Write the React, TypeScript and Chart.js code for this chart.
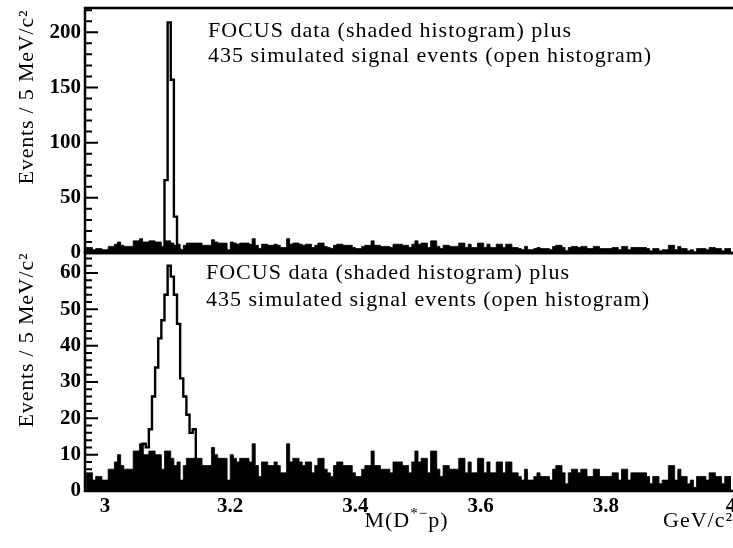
import React, { useEffect, useRef } from 'react';
import { Chart, registerables } from 'chart.js';

Chart.register(...registerables);

const FONT_FAMILY = '"Liberation Serif", "Times New Roman", Times, serif';

// x range (GeV/c^2) and binning (5 MeV bins)
const xRange = [2.968, 4.0];
const binStart = 2.97;
const binWidth = 0.005;

const xTickValues = [3, 3.2, 3.4, 3.6, 3.8, 4];
const topYTickValues = [0, 50, 100, 150, 200];
const bottomYTickValues = [0, 10, 20, 30, 40, 50, 60];
const topYMax = 222;
const bottomYMax = 65.5;

// FOCUS data, events per 5 MeV bin starting at 2.970 GeV/c^2
const dataCounts = [
  5, 5, 3, 4, 4, 3, 3, 6, 6, 8,
  10, 7, 6, 6, 6, 11, 11, 13, 10, 10,
  11, 11, 10, 10, 6, 11, 11, 9, 7, 8,
  3, 7, 9, 9, 9, 9, 9, 7, 7, 7,
  12, 10, 9, 9, 9, 3, 10, 9, 8, 9,
  9, 9, 8, 13, 7, 4, 8, 8, 7, 7,
  8, 7, 5, 5, 13, 8, 9, 9, 8, 7,
  8, 8, 5, 7, 9, 9, 6, 5, 4, 7,
  8, 8, 7, 7, 7, 5, 4, 4, 6, 7,
  7, 11, 7, 7, 6, 6, 6, 5, 8, 8,
  8, 7, 7, 5, 8, 11, 8, 9, 9, 5,
  11, 11, 6, 4, 7, 7, 6, 6, 6, 9,
  9, 5, 8, 5, 5, 9, 9, 5, 8, 5,
  5, 8, 8, 5, 8, 8, 5, 5, 4, 3,
  6, 3, 3, 4, 5, 4, 4, 4, 3, 6,
  7, 7, 5, 2, 5, 6, 6, 5, 6, 6,
  4, 4, 6, 6, 4, 4, 4, 4, 5, 5,
  3, 6, 6, 3, 5, 5, 5, 5, 5, 4,
  2, 4, 4, 2, 3, 3, 7, 7, 3, 6,
  4, 4, 2, 3, 1, 4, 4, 4, 3, 5,
  5, 4, 4, 2, 4, 4,
];

// simulated signal (open histograms)
const topSignalFirstBin = 24;
const topSignalCounts = [2, 66, 209, 157, 33, 3];
const bottomSignalFirstBin = 16;
const bottomSignalCounts = [2, 5, 13, 12, 17, 26, 34, 42, 47, 54, 62, 59, 54, 46, 31, 26, 21, 16, 17, 5, 2];

const annotationLines = [
  'FOCUS data (shaded histogram) plus',
  '435 simulated signal events (open histogram)',
];
const yAxisTitle = 'Events / 5 MeV/c²';
const xAxisTitleParts = ['M(D', '*−', 'p)'];
const xAxisUnit = 'GeV/c²';

const CANVAS_W = 760;
const CANVAS_H = 548;

function histPoints(firstBin: number, values: number[]) {
  const pts: { x: number; y: number }[] = [];
  pts.push({ x: binStart + firstBin * binWidth, y: 0 });
  values.forEach((v, i) => pts.push({ x: binStart + (firstBin + i) * binWidth, y: v }));
  pts.push({ x: binStart + (firstBin + values.length) * binWidth, y: 0 });
  return pts;
}

type DecorCfg = {
  minorStep: number;
  majorStep: number;
  annX: number;
  annY: number;
  annDy: number;
  titleCenterY: number;
  drawXTitle: boolean;
};

function makeDecor(cfg: DecorCfg) {
  return {
    id: 'panelDecor',
    afterDraw(chart: any) {
      const { ctx, chartArea: a } = chart;
      const y = chart.scales.y;
      ctx.save();
      ctx.strokeStyle = '#000';
      ctx.fillStyle = '#000';
      ctx.lineWidth = 2.5;
      ctx.beginPath();
      ctx.moveTo(a.right + 10, a.top);
      ctx.lineTo(a.left, a.top);
      ctx.lineTo(a.left, a.bottom);
      ctx.lineTo(a.right + 10, a.bottom);
      ctx.stroke();

      ctx.lineWidth = 2;
      ctx.beginPath();
      const n = Math.floor(y.max / cfg.minorStep + 1e-6);
      for (let k = 0; k <= n; k++) {
        const v = k * cfg.minorStep;
        const r = v / cfg.majorStep;
        const major = Math.abs(r - Math.round(r)) < 1e-6;
        const py = y.getPixelForValue(v);
        ctx.moveTo(a.left, py);
        ctx.lineTo(a.left + (major ? 13 : 7), py);
      }
      ctx.stroke();

      ctx.font = `22px ${FONT_FAMILY}`;
      (ctx as any).letterSpacing = '1px';
      ctx.textAlign = 'left';
      ctx.textBaseline = 'alphabetic';
      annotationLines.forEach((t, i) => {
        ctx.fillText(t, a.left + cfg.annX, a.top + cfg.annY + i * cfg.annDy);
      });

      ctx.save();
      (ctx as any).letterSpacing = '0.8px';
      ctx.translate(33, cfg.titleCenterY);
      ctx.rotate(-Math.PI / 2);
      ctx.textAlign = 'center';
      ctx.fillText(yAxisTitle, 0, 0);
      ctx.restore();

      if (cfg.drawXTitle) {
        (ctx as any).letterSpacing = '1px';
        const big = `22px ${FONT_FAMILY}`;
        const small = `15px ${FONT_FAMILY}`;
        ctx.font = big;
        const w0 = ctx.measureText(xAxisTitleParts[0]).width;
        const w2 = ctx.measureText(xAxisTitleParts[2]).width;
        ctx.font = small;
        const w1 = ctx.measureText(xAxisTitleParts[1]).width;
        const total = w0 + w1 + w2;
        let x = 406.5 - total / 2;
        const base = 527;
        ctx.font = big;
        ctx.fillText(xAxisTitleParts[0], x, base);
        x += w0;
        ctx.font = small;
        ctx.fillText(xAxisTitleParts[1], x, base - 9);
        x += w1;
        ctx.font = big;
        ctx.fillText(xAxisTitleParts[2], x, base);
        ctx.fillText(xAxisUnit, 663, base);
      }
      ctx.restore();
    },
  };
}

function yScale(max: number, tickValues: number[]) {
  return {
    type: 'linear',
    min: 0,
    max,
    grid: { display: false, drawTicks: false },
    border: { display: false },
    afterBuildTicks: (s: any) => {
      s.ticks = tickValues.map((v) => ({ value: v }));
    },
    afterFit: (s: any) => {
      s.width = 85;
      s.paddingTop = 0;
      s.paddingBottom = 0;
    },
    ticks: {
      font: { family: FONT_FAMILY, size: 21, weight: 'bold' },
      color: '#000',
      padding: 4,
      callback: (v: any) => String(v),
    },
  };
}

function datasets(sigFirst: number, sigValues: number[]) {
  return [
    {
      data: histPoints(sigFirst, sigValues),
      stepped: 'before',
      borderColor: '#000',
      borderWidth: 2.4,
      pointRadius: 0,
      fill: false,
    },
    {
      data: histPoints(0, dataCounts),
      stepped: 'before',
      borderColor: '#000',
      borderWidth: 0.8,
      backgroundColor: '#000',
      pointRadius: 0,
      fill: 'origin',
    },
  ];
}

function buildTop(): any {
  return {
    type: 'line',
    data: { datasets: datasets(topSignalFirstBin, topSignalCounts) },
    options: {
      responsive: false,
      animation: false,
      events: [],
      layout: { padding: { left: 0, top: 8, right: CANVAS_W - 731, bottom: CANVAS_H - 253 } },
      plugins: { legend: { display: false }, tooltip: { enabled: false } },
      scales: {
        x: { type: 'linear', min: xRange[0], max: xRange[1], display: false },
        y: yScale(topYMax, topYTickValues),
      },
    },
    plugins: [
      makeDecor({ minorStep: 10, majorStep: 50, annX: 123, annY: 29, annDy: 25, titleCenterY: 97, drawXTitle: false }),
    ],
  };
}

function buildBottom(): any {
  return {
    type: 'line',
    data: { datasets: datasets(bottomSignalFirstBin, bottomSignalCounts) },
    options: {
      responsive: false,
      animation: false,
      events: [],
      layout: { padding: { left: 0, top: 253, right: CANVAS_W - 731, bottom: 0 } },
      plugins: { legend: { display: false }, tooltip: { enabled: false } },
      scales: {
        x: {
          type: 'linear',
          min: xRange[0],
          max: xRange[1],
          grid: { display: false, drawTicks: false },
          border: { display: false },
          afterBuildTicks: (s: any) => {
            s.ticks = xTickValues.map((v) => ({ value: v }));
          },
          afterFit: (s: any) => {
            s.height = CANVAS_H - 491;
            s.paddingLeft = 0;
            s.paddingRight = 0;
          },
          ticks: {
            font: { family: FONT_FAMILY, size: 21, weight: 'bold' },
            color: '#000',
            padding: 3,
            maxRotation: 0,
            autoSkip: false,
            callback: (v: any) => String(Math.round(Number(v) * 10) / 10),
          },
        },
        y: yScale(bottomYMax, bottomYTickValues),
      },
    },
    plugins: [
      makeDecor({ minorStep: 2, majorStep: 10, annX: 121, annY: 26, annDy: 27, titleCenterY: 340, drawXTitle: true }),
    ],
  };
}

export default function App() {
  const topRef = useRef<HTMLCanvasElement>(null);
  const botRef = useRef<HTMLCanvasElement>(null);

  useEffect(() => {
    const top = new Chart(topRef.current as HTMLCanvasElement, buildTop());
    const bot = new Chart(botRef.current as HTMLCanvasElement, buildBottom());
    return () => {
      top.destroy();
      bot.destroy();
    };
  }, []);

  return (
    <div
      style={{
        position: 'absolute',
        left: 0,
        top: 0,
        width: 733,
        height: 548,
        overflow: 'hidden',
        background: '#fff',
      }}
    >
      <canvas
        ref={topRef}
        width={CANVAS_W}
        height={CANVAS_H}
        style={{ position: 'absolute', left: 0, top: 0 }}
      />
      <canvas
        ref={botRef}
        width={CANVAS_W}
        height={CANVAS_H}
        style={{ position: 'absolute', left: 0, top: 0 }}
      />
    </div>
  );
}
